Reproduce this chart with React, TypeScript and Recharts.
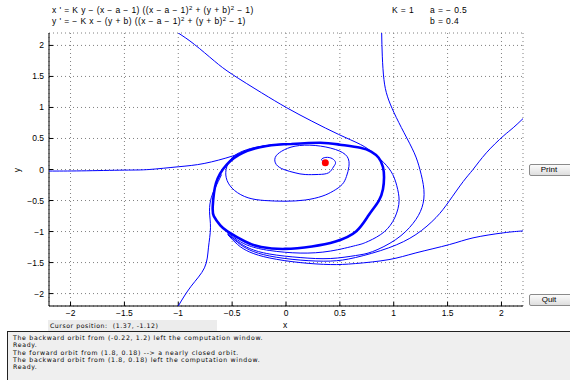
import React from 'react';
import { ScatterChart, Scatter, XAxis, YAxis, CartesianGrid } from 'recharts';

// axis ticks
const xTicks = [-2, -1.5, -1, -0.5, 0, 0.5, 1, 1.5, 2];
const yTicks = [-2, -1.5, -1, -0.5, 0, 0.5, 1, 1.5, 2];

// the attracting closed orbit (drawn thick, many orbits pile up on it)
const cycleX = [0.05, -0.18, -0.4, -0.55, -0.65, -0.68, -0.67, -0.61, -0.54, -0.38, -0.23, -0.01, 0.24, 0.46, 0.65, 0.77, 0.86, 0.9, 0.91, 0.9, 0.86, 0.79, 0.69, 0.5, 0.32, 0.05];
const cycleY = [0.41, 0.38, 0.27, 0.08, -0.22, -0.59, -0.75, -0.9, -1.0, -1.16, -1.25, -1.28, -1.24, -1.16, -1.0, -0.73, -0.51, -0.32, -0.13, 0.04, 0.19, 0.29, 0.35, 0.4, 0.43, 0.41];

// spiral out of the equilibrium
const spiralX = [0.365, 0.33, 0.37, 0.43, 0.46, 0.44, 0.395, 0.3, 0.178, 0.084, -0.02, -0.09, -0.1, -0.04, 0.084, 0.271, 0.458, 0.567, 0.584, 0.561, 0.521, 0.439, 0.334, 0.178, -0.009, -0.196, -0.352, -0.477, -0.547, -0.556, -0.514, -0.43, -0.29, -0.131, 0.047];
const spiralY = [0.11, 0.16, 0.195, 0.175, 0.11, 0.04, -0.053, -0.08, -0.081, -0.053, 0.0, 0.08, 0.194, 0.295, 0.376, 0.387, 0.323, 0.21, 0.048, -0.113, -0.242, -0.347, -0.431, -0.492, -0.511, -0.5, -0.456, -0.339, -0.177, 0.0, 0.161, 0.274, 0.355, 0.395, 0.411];

// orbit coming in from the left edge
const leftX = [-2.2, -1.9, -1.5, -1.27, -1.0, -0.76, -0.5, -0.35, -0.2, 0.0];
const leftY = [-0.025, -0.022, -0.01, 0.0, 0.044, 0.097, 0.215, 0.31, 0.38, 0.415];

// orbit through (-0.22, 1.2)
const orbitBX = [-1.0, -0.85, -0.664, -0.498, -0.227, 0.007, 0.24, 0.489, 0.692, 0.804, 0.907, 0.991, 1.037, 1.047, 0.991, 0.879, 0.738, 0.645, 0.411, 0.131, -0.15, -0.336, -0.449, -0.542];
const orbitBY = [2.2, 2.016, 1.747, 1.532, 1.237, 0.995, 0.779, 0.565, 0.403, 0.274, 0.113, -0.081, -0.323, -0.565, -0.839, -1.048, -1.177, -1.226, -1.315, -1.347, -1.306, -1.234, -1.137, -1.016];

// orbit from the top near x = 0.9
const orbitCX = [0.888, 0.894, 0.909, 0.941, 1.003, 1.096, 1.19, 1.243, 1.28, 1.262, 1.178, 1.019, 0.804, 0.645, 0.411, 0.131, -0.15, -0.336, -0.449, -0.542];
const orbitCY = [2.2, 1.827, 1.452, 1.182, 0.915, 0.592, 0.269, 0.0, -0.323, -0.613, -0.871, -1.129, -1.323, -1.387, -1.435, -1.419, -1.363, -1.274, -1.161, -1.032];

// orbit from the right edge, upper
const orbitDX = [2.2, 2.109, 2.016, 1.86, 1.736, 1.645, 1.514, 1.393, 1.206, 0.953, 0.645, 0.411, 0.131, -0.15, -0.336, -0.449, -0.542];
const orbitDY = [0.82, 0.673, 0.537, 0.269, 0.0, -0.194, -0.511, -0.774, -1.048, -1.263, -1.419, -1.476, -1.46, -1.395, -1.298, -1.177, -1.04];

// orbit from the right edge, lower
const orbitEX = [2.2, 2.016, 1.736, 1.517, 1.206, 0.956, 0.645, 0.411, 0.131, -0.15, -0.336, -0.449, -0.542];
const orbitEY = [-0.99, -1.021, -1.102, -1.21, -1.344, -1.452, -1.516, -1.532, -1.5, -1.427, -1.331, -1.21, -1.048];

// orbit from the bottom at x = -1
const orbitFX = [-1.0, -0.881, -0.757, -0.72, -0.701, -0.71, -0.694, -0.657, -0.598];
const orbitFY = [-2.2, -1.882, -1.585, -1.263, -0.94, -0.673, -0.456, -0.295, -0.081];

const eqX = [0.365];
const eqY = [0.11];

const messages = [
  'The backward orbit from (-0.22, 1.2) left the computation window.',
  'Ready.',
  'The forward orbit from (1.8, 0.18) --> a nearly closed orbit.',
  'The backward orbit from (1.8, 0.18) left the computation window.',
  'Ready.',
];

const font = '"Liberation Sans", Arial, Helvetica, sans-serif';
const uiFont = '"DejaVu Sans", Verdana, sans-serif';
const blue = '#0000ff';

const pts = (xs: number[], ys: number[]) => xs.map((x, i) => ({ x, y: ys[i] }));

const curves = [
  { key: 'left', data: pts(leftX, leftY), w: 1 },
  { key: 'b', data: pts(orbitBX, orbitBY), w: 1 },
  { key: 'c', data: pts(orbitCX, orbitCY), w: 1 },
  { key: 'd', data: pts(orbitDX, orbitDY), w: 1 },
  { key: 'e', data: pts(orbitEX, orbitEY), w: 1 },
  { key: 'f', data: pts(orbitFX, orbitFY), w: 1 },
  { key: 'spiral', data: pts(spiralX, spiralY), w: 1 },
  { key: 'cycle', data: pts(cycleX, cycleY), w: 2.6 },
];

const NoDot = () => <g />;
const RedDot = (p: any) => <circle cx={p.cx} cy={p.cy} r={3.5} fill="#ff0000" />;
const fmt = (v: number) => (v < 0 ? '\u2212' + Math.abs(v) : String(v));

const tickStyle = { fill: '#000', fontSize: 8.5, fontFamily: font };
const sq = { fontSize: 6, verticalAlign: 3, lineHeight: 0 } as React.CSSProperties;
const head = { position: 'absolute', fontSize: 8.5, lineHeight: '10px', letterSpacing: 0.4, whiteSpace: 'pre' } as React.CSSProperties;

const Button: React.FC<{ top: number; label: string }> = ({ top, label }) => (
  <div
    style={{
      position: 'absolute', left: 529, top, width: 46, height: 12,
      border: '1px solid #8a8a8a', borderRadius: 2, boxSizing: 'border-box',
      background: 'linear-gradient(#fbfbfb, #dedede)', fontSize: 8, lineHeight: '10px',
      textAlign: 'center', paddingRight: 6, color: '#000',
    }}
  >
    {label}
  </div>
);

const App: React.FC = () => {
  return (
    <div style={{ position: 'absolute', left: 0, top: 0, width: 570, height: 380, overflow: 'hidden', background: '#fff', fontFamily: font }}>
      <div style={{ ...head, left: 52, top: 5 }}>
        x ' = K y − (x − a − 1) ((x − a − 1)<span style={sq}>2</span> + (y + b)<span style={sq}>2</span> − 1)
      </div>
      <div style={{ ...head, left: 52, top: 16 }}>
        y ' = − K x − (y + b) ((x − a − 1)<span style={sq}>2</span> + (y + b)<span style={sq}>2</span> − 1)
      </div>
      <div style={{ ...head, left: 392, top: 5 }}>K = 1</div>
      <div style={{ ...head, left: 430, top: 5 }}>a = − 0.5</div>
      <div style={{ ...head, left: 430, top: 16 }}>b = 0.4</div>

      <ScatterChart width={570} height={380} margin={{ top: 33, right: 47, bottom: 54, left: 0 }}>
        <CartesianGrid stroke="#808080" strokeDasharray="1 3" />
        <XAxis
          type="number" dataKey="x" domain={[-2.2, 2.2]} ticks={xTicks} allowDataOverflow
          height={20} tickSize={-4} tickMargin={8} tickFormatter={fmt} tick={tickStyle}
          axisLine={{ stroke: '#000' }} tickLine={{ stroke: '#000' }}
        />
        <XAxis
          xAxisId="top" orientation="top" mirror type="number" domain={[-2.2, 2.2]} ticks={xTicks}
          allowDataOverflow height={0} tickSize={4} tick={false}
          axisLine={{ stroke: '#000' }} tickLine={{ stroke: '#000' }}
        />
        <YAxis
          type="number" dataKey="y" domain={[-2.2, 2.2]} ticks={yTicks} allowDataOverflow
          width={49} tickSize={-4} tickMargin={9} tickFormatter={fmt} tick={tickStyle}
          axisLine={{ stroke: '#000' }} tickLine={{ stroke: '#000' }}
        />
        <YAxis
          yAxisId="right" orientation="right" mirror type="number" domain={[-2.2, 2.2]} ticks={yTicks}
          allowDataOverflow width={0} tickSize={4} tick={false}
          axisLine={{ stroke: '#000' }} tickLine={{ stroke: '#000' }}
        />
        {curves.map((c) => (
          <Scatter
            key={c.key}
            data={c.data}
            line={{ stroke: blue, strokeWidth: c.w }}
            lineJointType="natural"
            shape={NoDot}
            legendType="none"
            isAnimationActive={false}
          />
        ))}
        <Scatter data={pts(eqX, eqY)} shape={RedDot} legendType="none" isAnimationActive={false} />
      </ScatterChart>

      <div style={{ position: 'absolute', left: 17, top: 170, fontSize: 8.5, transform: 'translate(-50%, -50%) rotate(-90deg)' }}>y</div>
      <div style={{ position: 'absolute', left: 283, top: 320, fontSize: 8.5, lineHeight: '10px' }}>x</div>

      <div style={{ position: 'absolute', left: 48, top: 320, width: 169, height: 11, background: '#ececec', fontFamily: uiFont, fontSize: 6.2, letterSpacing: 0.55, lineHeight: '11px', paddingLeft: 2, boxSizing: 'border-box', whiteSpace: 'pre' }}>
        Cursor position:  (1.37, -1.12)
      </div>

      <div style={{ position: 'absolute', left: 7, top: 331, width: 580, height: 60, border: '1px solid #222', background: '#efefef', boxSizing: 'border-box', padding: '2px 0 0 5px', fontFamily: uiFont, fontSize: 6.2, letterSpacing: 0.7, lineHeight: '7.25px' }}>
        {messages.map((m, i) => (
          <div key={i} style={{ whiteSpace: 'pre', height: 7.25 }}>{m}</div>
        ))}
      </div>

      <Button top={164} label="Print" />
      <Button top={294} label="Quit" />
    </div>
  );
};

export default App;
